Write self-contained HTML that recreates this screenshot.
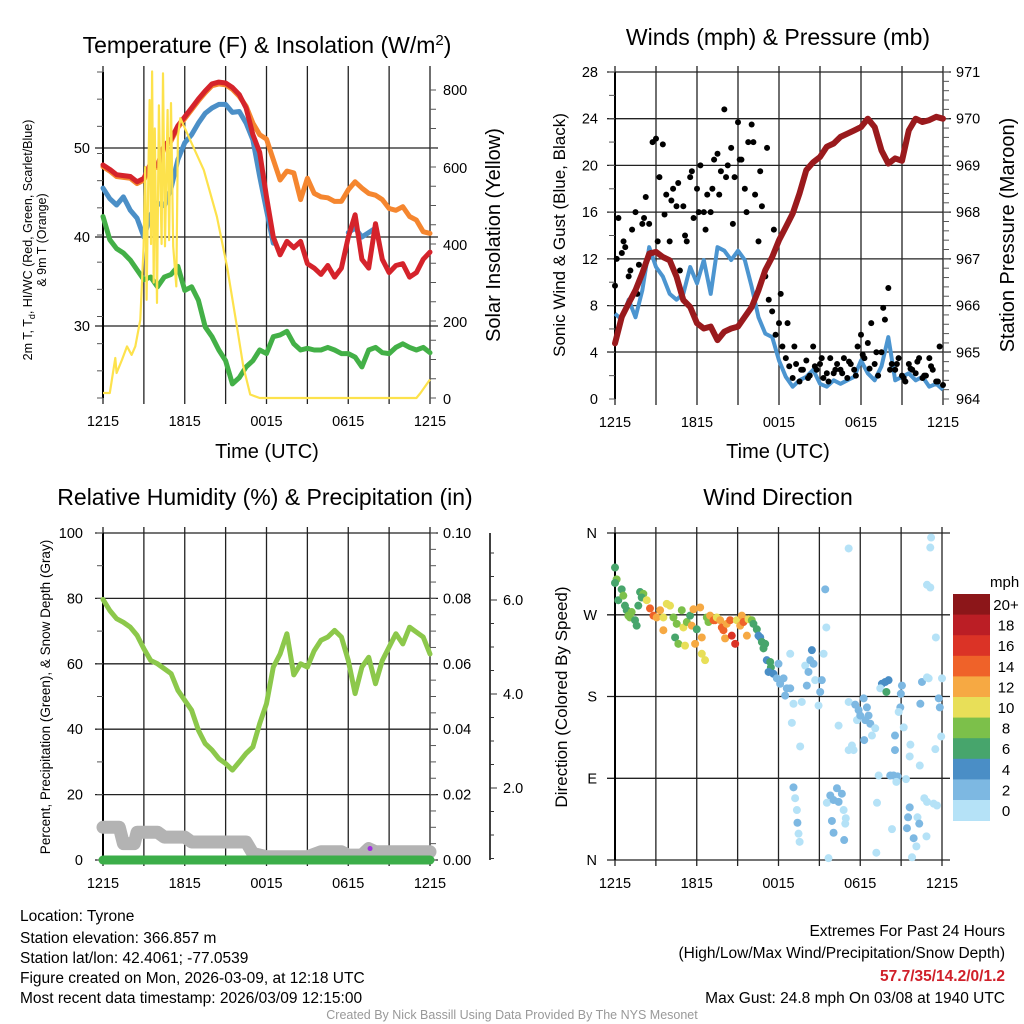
<!DOCTYPE html>
<html><head><meta charset="utf-8">
<style>
html,body{margin:0;padding:0;background:#fff;}
svg{display:block;font-family:"Liberation Sans Narrow","Liberation Sans",Arial,sans-serif;}
</style></head>
<body>
<svg id="chart" width="1024" height="1024" viewBox="0 0 1024 1024" xmlns="http://www.w3.org/2000/svg">
<g id="p1"></g>
<g id="p2"></g>
<g id="p3"></g>
<g id="p4"></g>
<g id="txt">
<text x="20" y="921" font-size="15.5">Location: Tyrone</text>
<text x="20" y="943" font-size="15.5">Station elevation: 366.857 m</text>
<text x="20" y="963" font-size="15.5">Station lat/lon: 42.4061; -77.0539</text>
<text x="20" y="983" font-size="15.5">Figure created on Mon, 2026-03-09, at 12:18 UTC</text>
<text x="20" y="1003" font-size="15.5">Most recent data timestamp: 2026/03/09 12:15:00</text>
<text x="1005" y="936" font-size="15.5" text-anchor="end">Extremes For Past 24 Hours</text>
<text x="1005" y="958" font-size="15.5" text-anchor="end">(High/Low/Max Wind/Precipitation/Snow Depth)</text>
<text x="1005" y="981" font-size="15.5" font-weight="bold" fill="#d0202a" text-anchor="end">57.7/35/14.2/0/1.2</text>
<text x="1005" y="1003" font-size="15.5" text-anchor="end">Max Gust: 24.8 mph On 03/08 at 1940 UTC</text>
<text x="512" y="1019" font-size="12.5" fill="#999" text-anchor="middle">Created By Nick Bassill Using Data Provided By The NYS Mesonet</text>
</g>
</svg>
<script>
// ---------- data ----------
const timeTicks = ["1215","1815","0015","0615","1215"];
const halfHours = [0,0.5,1,1.5,2,2.5,3,3.5,4,4.5,5,5.5,6,6.5,7,7.5,8,8.5,9,9.5,10,10.5,11,11.5,12,12.5,13,13.5,14,14.5,15,15.5,16,16.5,17,17.5,18,18.5,19,19.5,20,20.5,21,21.5,22,22.5,23,23.5,24];
const tempRed = [48.1,47.6,47.0,46.9,46.8,46.2,46.6,48.3,48.0,50.3,51.0,52.5,53.5,54.5,55.5,56.4,57.2,57.4,57.3,56.8,56.0,54.5,51.5,49.5,44.5,40.0,38.0,39.5,38.8,39.5,37.0,36.5,35.8,36.8,35.5,36.5,40.0,42.5,37.5,36.5,41.5,37.5,36.0,36.8,37.0,35.5,36.0,37.5,38.3];
const temp9m = [47.9,47.4,46.8,46.7,46.6,46.0,46.4,48.1,47.8,50.1,50.8,52.3,53.3,54.3,55.3,56.2,57.0,57.2,57.1,56.6,55.8,54.7,52.8,51.5,51.0,48.7,46.4,47.4,47.2,44.2,46.6,44.9,44.5,44.4,44.0,44.0,45.3,46.2,45.5,44.9,44.7,44.2,43.2,43.0,43.4,42.3,41.9,40.6,40.4];
const heatIndex = [45.5,44.3,43.6,44.5,43.0,42.1,40.0,42.5,43.8,43.5,45.5,48.7,50.6,51.5,52.8,53.9,54.5,54.9,54.9,54.0,54.1,52.8,50.9,46.8,43.0,39.3,null,null,null,null,null,null,null,null,null,null,40.5,41.0,40.0,40.5,41.0,null,null,null,null,null,null,null,null];
const dewPoint = [42.3,39.7,38.7,38.2,37.4,36.3,35.2,35.5,34.4,35.5,35.8,36.7,34.0,34.4,32.9,29.9,28.8,27.3,26.1,23.5,24.2,25.4,26.1,27.3,26.9,28.8,29.0,29.4,28.0,27.3,27.5,27.3,27.3,27.6,27.3,26.9,26.9,26.5,25.4,27.3,27.6,27.0,26.9,27.6,28.0,27.6,27.3,27.6,27.0];
const solarT = [0,0.5,0.9,1.0,1.4,1.76,2.1,2.37,2.74,2.98,3.1,3.2,3.3,3.42,3.52,3.6,3.72,3.8,3.96,4.1,4.3,4.4,4.55,4.74,4.85,4.99,5.15,5.38,5.5,5.67,6.4,7.4,8.36,9.1,9.83,10.3,10.8,11.5,23.0,23.3,24];
const solarV = [13,13,104,65,100,134,112,134,203,394,600,255,520,774,400,848,300,700,247,760,400,843,394,748,410,766,394,290,679,727,670,592,471,342,186,82,9,0,0,13,48];
const windT = halfHours;
const sonicWind = [7.3,6.8,8.5,7.0,9.3,13.0,11.3,10.5,9.0,8.5,9.0,11.3,9.9,11.9,9.0,13.0,12.7,11.9,12.7,11.9,9.6,7.0,5.6,5.3,3.3,1.9,1.05,1.6,1.9,2.5,1.3,1.05,1.6,1.3,1.6,1.9,3.3,2.2,1.6,2.8,5.3,1.6,1.9,2.2,1.6,1.9,1.05,1.3,0.8];
const pressure = [965.19,965.76,966.05,966.33,966.69,967.11,967.15,967.04,966.97,966.62,966.12,965.97,965.62,965.51,965.55,965.26,965.44,965.51,965.55,965.76,965.97,966.33,966.76,967.04,967.40,967.68,967.97,968.4,968.9,969.07,969.18,969.4,969.47,969.61,969.68,969.75,969.82,970.0,969.82,969.32,969.04,969.15,969.1,969.75,970.0,969.93,969.97,970.04,970.0];
const gustA = [9.7,15.5,12.5,13,10.5,14.5,16,11.5,15,17.3,15,22,22.3,19,21.8,17.5,13.5,18,16.5,11,16.5,13.5,19,15.5,18,20,16,17.5,16,20.5,21,19.5,24.8,20,21.5,19,23.7,20.5,18,22,23.5,17.5,13.5,16.5,10.5,8.5,7.5,5.5,6.5,4.5,3.5,2.8,1.8,3,1.5,2.5,3.3,2,4.5,2.5,3,1.8,2.2,3.5,2.2,3,2.5,3.5,1.8,3,2.5,4.5,5.5,3.5,4.8,6.5,3,2,4,6.8,9.5,3,2.5,3.5,2,1.5,3,2.5,2.2,3.5,1.8,2,3.5,2.5,1.5,4.5,1.2];
const gustB = [12,13.5,11,9,15.5,12.5,13.5,15.8,17,18.5,14,19.5,16,14.5,18,17.5,19,15,20.5,16,22,19.5,21.5,14.5,9,6.5,4.5,2.5,1.8,2.8,3.5,1.5,2.5,2.2,3.2,2.0,3.8,2.6,4.0,7.8,2.5,3.0,1.8,2.6,3.2,2.0,2.8,1.5];
const rhValues = [79.7,76.3,73.8,72.7,71.2,68.7,64.6,61,60,58.5,57,51.9,48.8,45.8,39.7,35.6,33.6,31,29.5,27.5,30,32.6,34.6,41.7,47.8,59,63,69.2,56.6,60,59,64,67.2,68.2,70.2,68.2,61,50.9,59,62,53.9,61,65.1,69.2,66.1,71.2,69.7,68.2,63];
const snowT = [0,1.2,1.5,2.3,2.5,4.0,4.5,6.0,6.5,10.5,11.0,12.0,15.0,16.0,17.5,18.0,19.0,19.5,20.0,24];
const snowV = [10,10,5,5,8.5,8.5,7,7,5.5,5.5,2,1,1,2.5,2.5,1.5,1.5,3.5,2.5,2.5];
const precipV = [0,0];
const dirT = [0,0.12,0,0.24,0.49,0.61,0.73,0.86,0.98,1.22,1.1,1.47,1.59,1.84,2.08,1.71,1.96,2.33,2.57,2.82,3.06,3.31,3.55,3.8,4.04,3.55,4.29,4.53,4.41,4.65,4.9,5.02,5.14,5.27,5.51,5.63,5.76,5.88,6.0,6.25,6.37,6.37,6.61,6.74,6.86,6.98,7.23,7.35,7.47,7.72,7.84,7.96,8.08,8.2,8.45,8.57,8.82,8.94,9.19,9.31,9.43,9.68,9.8,10.04,10.16,10.41,10.53,10.66,10.78,11.02,10.9,11.14,11.39,11.44,11.27,11.63,11.88,12.0,12.12,12.37,12.61,12.49,12.86,13.1,12.98,12.86,13.59,13.71,13.96,14.08,14.2,14.33,14.45,14.57,14.69,14.94,15.06,15.18,15.31,15.43,15.51,17.15,13.1,13.22,13.35,13.39,13.47,13.55,15.55,15.8,16.04,16.29,16.65,16.41,16.78,16.94,16.9,15.92,16.04,16.82,15.67,16.41,17.15,17.39,17.51,17.15,17.63,17.88,17.76,18.0,18.25,18.49,18.61,18.37,18.74,19.1,18.86,18.29,19.35,19.23,19.18,19.59,19.84,20.08,19.47,19.92,20.2,20.45,20.74,20.65,21.36,20.33,20.55,20.55,21.06,20.98,20.94,20.82,21.19,21.68,21.63,22.37,21.63,21.51,22.2,22.33,21.43,21.92,22.12,21.8,22.53,22.41,23.02,22.9,23.14,22.9,23.55,24.0,23.76,23.84,23.94,23.51,22.7,22.9,23.39,23.63,22.86,23.14,23.2];
const dirV = [322,309,305,286,298,291,280,275,269,273,267,264,258,295,293,280,289,286,277,269,267,275,267,282,280,253,267,260,245,238,275,256,236,262,269,258,276,238,254,278,245,227,220,267,262,269,264,264,267,264,256,253,244,260,264,247,238,264,258,269,262,247,265,264,260,254,247,245,240,238,233,220,218,212,207,205,200,216,194,200,189,181,189,172,151,227,125,174,214,192,207,220,231,216,198,170,185,198,227,298,256,343,80,68,55,41,29,20,63,71,66,79,73,64,55,46,40,43,30,22,2,148,121,126,121,174,171,165,154,159,178,168,159,154,150,145,137,132,93,63,8,194,196,198,189,185,93,93,92,86,89,34,137,121,192,183,168,163,146,127,114,104,58,47,47,40,35,24,15,3,196,172,200,201,300,303,245,200,178,168,136,122,68,64,62,60,26,344,355];
const dirS = [6,8,7,6,6,8,6,7,8,9,8,7,6,6,8,6,7,10,14,15,13,13,10,10,10,12,8,9,7,8,8,10,10,9,6,12,12,13,6,12,12,10,10,9,8,13,14,15,10,12,14,14,13,13,15,16,16,10,13,12,15,12,11,9,7,6,5,4,6,6,6,4,6,6,4,4,3,3,3,3,3,3,3,1,1,1,1,1,1,2,2,2,4,2,1,1,2,3,1,3,1,1,2,1,1,3,1,1,1,2,2,3,3,3,1,1,1,3,3,3,1,1,1,1,1,1,3,3,1,3,3,3,3,3,3,1,1,3,1,1,1,4,4,4,1,6,3,3,3,1,1,1,3,3,3,3,3,1,1,1,1,1,3,3,1,3,3,3,1,1,3,3,1,1,1,1,1,1,3,3,1,1,1,1,1,1,1,1,1];
const speedLabels = ["20+","18","16","14","12","10","8","6","4","2","0"];
const speedColors = ["#b5e2f7","#7db8e2","#4a8ec6","#47a56c","#7cc04a","#e8df58","#f6a943","#ef6229","#db3326","#bb1e25","#8c1619"];
// ---------- helpers ----------
const NS="http://www.w3.org/2000/svg";
function mk(parent,tag,attrs,text){const e=document.createElementNS(NS,tag);for(const k in attrs)e.setAttribute(k,attrs[k]);if(text!==undefined)e.textContent=text;parent.appendChild(e);return e;}
function lin(d0,d1,r0,r1){return v=>r0+(v-d0)*(r1-r0)/(d1-d0);}
function pathFrom(xs,ys,fx,fy){let d="",pen=false;for(let i=0;i<xs.length;i++){if(ys[i]===null||ys[i]===undefined){pen=false;continue;}d+=(pen?"L":"M")+fx(xs[i]).toFixed(1)+","+fy(ys[i]).toFixed(1);pen=true;}return d;}
function frame(g,x0,x1,y0,y1,hx,hy){
  for(let i=0;i<=8;i++){const x=x0+(x1-x0)*i/8;
    const l=mk(g,"line",{x1:x,x2:x,y1:y0-6,y2:y1+6,stroke:"#222","stroke-width":1.3});
    
    }
  hy.forEach(y=>{const l=mk(g,"line",{x1:x0-8,x2:x1+8,y1:y,y2:y,stroke:"#222","stroke-width":1.3});
    
    });
  const fx=lin(0,24,x0,x1);
  timeTicks.forEach((t,i)=>{const tx=mk(g,"text",{x:fx(i*6),y:y1+28,"font-size":14.5,"text-anchor":"middle"},t);
    
    });
  mk(g,"line",{x1:x0,x2:x0,y1:y0,y2:y1,stroke:"#000","stroke-width":2});
}
function ytick(g,x,y,label,anchor,name){const t=mk(g,"text",{x:x,y:y+5,"font-size":14.5,"text-anchor":anchor},label);
  
  }
function minorTicks(g,x,y0,y1,n,dir){for(let i=0;i<=n;i++){const y=y0+(y1-y0)*i/n;mk(g,"line",{x1:x,x2:x+dir*6,y1:y,y2:y,stroke:"#555","stroke-width":1});}}
function title(g,x,y,str,size,name,rot){const a={x:x,y:y,"font-size":size,"text-anchor":"middle"};if(rot)a.transform="rotate(-90 "+x+" "+y+")";const t=mk(g,"text",a,str);
  
  return t;}

// ---------- panel 1 ----------
(function(){
 const g=document.getElementById("p1");
 const X=lin(0,24,103,430), Y=lin(50,40,148,237), YS=lin(0,800,398,90);
 frame(g,103,430,72,398,X,[148,237,326]);
 minorTicks(g,103,72,398,12,-1);
 minorTicks(g,430,90,398,16,1);
 [["50",148],["40",237],["30",326]].forEach(a=>ytick(g,90,a[1],a[0],"end","temp-tick-label"));
 [["0",399],["200",322],["400",245],["600",168],["800",90]].forEach(a=>ytick(g,443,a[1],a[0],"start","solar-tick-label"));
 const series=[[dewPoint,"#43b047","dewpoint-line"],[heatIndex,"#4b8fc7","heat-index-line"],[temp9m,"#f5862f","temp-9m-line"],[tempRed,"#d5232b","temp-2m-line"]];
 series.forEach(s=>{const p=mk(g,"path",{d:pathFrom(halfHours,s[0],X,Y),fill:"none",stroke:s[1],"stroke-width":5,"stroke-linejoin":"round","stroke-linecap":"round"});
   
   });
 const sp=mk(g,"path",{d:pathFrom(solarT,solarV,X,YS),fill:"none",stroke:"#fde24c","stroke-width":2.2,"stroke-linejoin":"round"});
 
 
 const tt=mk(g,"text",{x:267,y:53,"font-size":23,"text-anchor":"middle"});
 tt.innerHTML='Temperature (F) &amp; Insolation (W/m<tspan dy="-8" font-size="15">2</tspan><tspan dy="8">)</tspan>';
 
 
 title(g,267,458,"Time (UTC)",20,"x-axis-title-1");
 title(g,500,235,"Solar Insolation (Yellow)",20,"solar-axis-title",true);
 const lt=mk(g,"text",{x:32,y:240,"font-size":12.5,"text-anchor":"middle",transform:"rotate(-90 32 240)"});
 lt.innerHTML='2m T, T<tspan dy="3" font-size="9">d</tspan><tspan dy="-3">, HI/WC (Red, Green, Scarlet/Blue)</tspan>';
 
 
 title(g,46,240,"& 9m T (Orange)",12.5,"temp-axis-title-2",true);
})();

// ---------- panel 2 ----------
(function(){
 const g=document.getElementById("p2");
 const X=lin(0,24,615,943), Y=lin(0,28,399,72), YP=lin(964,971,399,72);
 frame(g,615,943,72,399,X,[352,305.6,258.9,212.1,165.4,118.7,72]);
 minorTicks(g,615,72,399,14,-1);
 minorTicks(g,943,72,399,35,1);
 for(let v=0;v<=28;v+=4)ytick(g,598,Y(v),String(v),"end","wind-tick-label");
 for(let p=964;p<=971;p++)ytick(g,956,YP(p),String(p),"start","pressure-tick-label");
 const bw=mk(g,"path",{d:pathFrom(windT,sonicWind,X,Y),fill:"none",stroke:"#4c95d0","stroke-width":4,"stroke-linejoin":"round"});
 
 
 gustA.forEach((v,i)=>{const c=mk(g,"circle",{cx:X(i*0.25),cy:Y(v),r:3,fill:"#000"});
   
   });
 gustB.forEach((v,i)=>{const c=mk(g,"circle",{cx:X(0.125+i*0.5),cy:Y(v),r:3,fill:"#000"});
   
   });
 const pr=mk(g,"path",{d:pathFrom(windT,pressure,X,YP),fill:"none",stroke:"#9a1a1d","stroke-width":6,"stroke-linejoin":"round","stroke-linecap":"round"});
 
 
 title(g,778,45,"Winds (mph) & Pressure (mb)",23,"winds-title");
 title(g,778,458,"Time (UTC)",20,"x-axis-title-2");
 title(g,565,235,"Sonic Wind & Gust (Blue, Black)",17,"wind-axis-title",true);
 title(g,1014,235,"Station Pressure (Maroon)",20,"pressure-axis-title",true);
})();

// ---------- panel 3 ----------
(function(){
 const g=document.getElementById("p3");
 const X=lin(0,24,103,430), Y=lin(0,100,860,533), YF=lin(0,6,882,600);
 frame(g,103,430,533,860,X,[533,598.4,663.8,729.2,794.6,860]);
 minorTicks(g,103,533,860,10,-1);
 minorTicks(g,430,533,860,20,1);
 for(let v=0;v<=100;v+=20)ytick(g,83,Y(v),String(v),"end","rh-tick-label");
 for(let v=0;v<=10;v+=2)ytick(g,443,Y(v*10),(v/100).toFixed(2),"start","precip-tick-label");
 mk(g,"line",{x1:490,x2:490,y1:533,y2:860,stroke:"#000","stroke-width":1.5});
 for(let v=0.5;v<=7;v+=0.5){const y=YF(v);if(y>=533&&y<=860)mk(g,"line",{x1:490,x2:v%2===0?497:494,y1:y,y2:y,stroke:"#333","stroke-width":1});}
 [2,4,6].forEach(v=>ytick(g,503,YF(v),v.toFixed(1),"start","snow-tick-label"));
 const sn=mk(g,"path",{d:pathFrom(snowT,snowV,X,Y),fill:"none",stroke:"#b3b3b3","stroke-width":13,"stroke-linejoin":"round","stroke-linecap":"round"});
 
 
 const pc=mk(g,"path",{d:pathFrom([0,24],precipV,X,Y),fill:"none",stroke:"#3cae49","stroke-width":9,"stroke-linecap":"round"});
 
 
 const rh=mk(g,"path",{d:pathFrom(halfHours,rhValues,X,Y),fill:"none",stroke:"#8cc84b","stroke-width":5,"stroke-linejoin":"round","stroke-linecap":"round"});
 
 
 const pd=mk(g,"circle",{cx:X(19.6),cy:Y(3.5),r:2.5,fill:"#a030e0"});
 
 
 title(g,265,505,"Relative Humidity (%) & Precipitation (in)",23,"humidity-title");
 title(g,50,697,"Percent, Precipitation (Green), & Snow Depth (Gray)",13.5,"humidity-axis-title",true);
})();

// ---------- panel 4 ----------
(function(){
 const g=document.getElementById("p4");
 const X=lin(0,24,615,942), Y=lin(0,360,860,533);
 frame(g,615,942,533,860,X,[533,614.8,696.5,778.3,860]);
 [["N",360],["W",270],["S",180],["E",90],["N",0]].forEach(a=>ytick(g,597,Y(a[1]),a[0],"end","direction-tick-label"));
 dirT.forEach((t,i)=>{const b=Math.min(10,Math.floor(dirS[i]/2));
   const c=mk(g,"circle",{cx:X(t),cy:Y(dirV[i]),r:4,fill:speedColors[b]});
   
   });
 title(g,778,505,"Wind Direction",23,"direction-title");
 title(g,567,697,"Direction (Colored By Speed)",17,"direction-axis-title",true);
 const lg=mk(g,"g",{});
 
 
 const lt=mk(lg,"text",{x:990,y:587,"font-size":15},"mph");
 speedLabels.forEach((s,i)=>{const y=594+i*20.6;
   const r=mk(lg,"rect",{x:953,y:y,width:37,height:21,fill:speedColors[10-i]});
   
   
   const t=mk(lg,"text",{x:1006,y:y+16,"font-size":15,"text-anchor":"middle"},s);
   
   });
})();
</script>
</body></html>
